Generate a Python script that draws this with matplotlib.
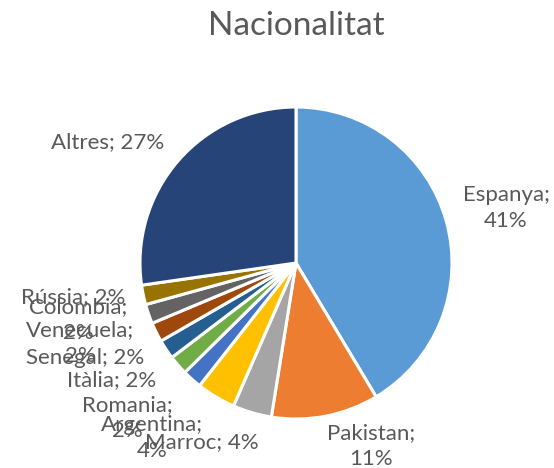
import matplotlib.pyplot as plt

# Dades del gràfic
paisos = ['Espanya', 'Pakistan', 'Marroc', 'Argentina', 'Romania', 'Itàlia',
          'Senegal', 'Venecuela', 'Colombia', 'Rússia', 'Altres']
percentatges = [41, 11, 4, 4, 2, 2, 2, 2, 2, 2, 27]
colors = ['#5B9BD5', '#ED7D31', '#A5A5A5', '#FFC000', '#4472C4', '#70AD47',
          '#255E91', '#9E480E', '#636363', '#997300', '#264478']

# Etiquetes tal com les col·loca Excel (una o dues línies)
etiquetes = ['Espanya;\n41%', 'Pakistan;\n11%', 'Marroc; 4%', 'Argentina;\n4%',
             'Romania;\n2%', 'Itàlia; 2%', 'Senegal; 2%', 'Venecuela;\n2%',
             'Colombia;\n2%', 'Rússia; 2%', 'Altres; 27%']
# posicions de les etiquetes en píxels (x, y des de dalt)
pos_etiquetes = [(506, 208), (371, 446), (202, 442), (152, 438), (127, 418),
                 (112, 380), (85, 358), (80, 343), (78, 320), (73, 297), (108, 142)]

W, H = 554, 468
fig = plt.figure(figsize=(W / 100, H / 100), dpi=100)
ax = fig.add_axes([0, 0, 1, 1])

ax.pie(percentatges, colors=colors, startangle=90, counterclock=False,
       center=(296, H - 263), radius=156,
       wedgeprops=dict(edgecolor='white', linewidth=2.2))

# pie() canvia els límits, així que es fixen després
ax.set_xlim(0, W)
ax.set_ylim(0, H)
ax.set_aspect('equal')
ax.axis('off')

gris = '#595959'
for text, (x, y) in zip(etiquetes, pos_etiquetes):
    ax.text(x, H - y, text, ha='center', va='center', fontsize=16,
            family='Lato', color=gris, linespacing=1.4)

ax.text(296, H - 26, 'Nacionalitat', ha='center', va='center',
        fontsize=24, family='Lato', color=gris)

fig.savefig('out.png', dpi=100)
